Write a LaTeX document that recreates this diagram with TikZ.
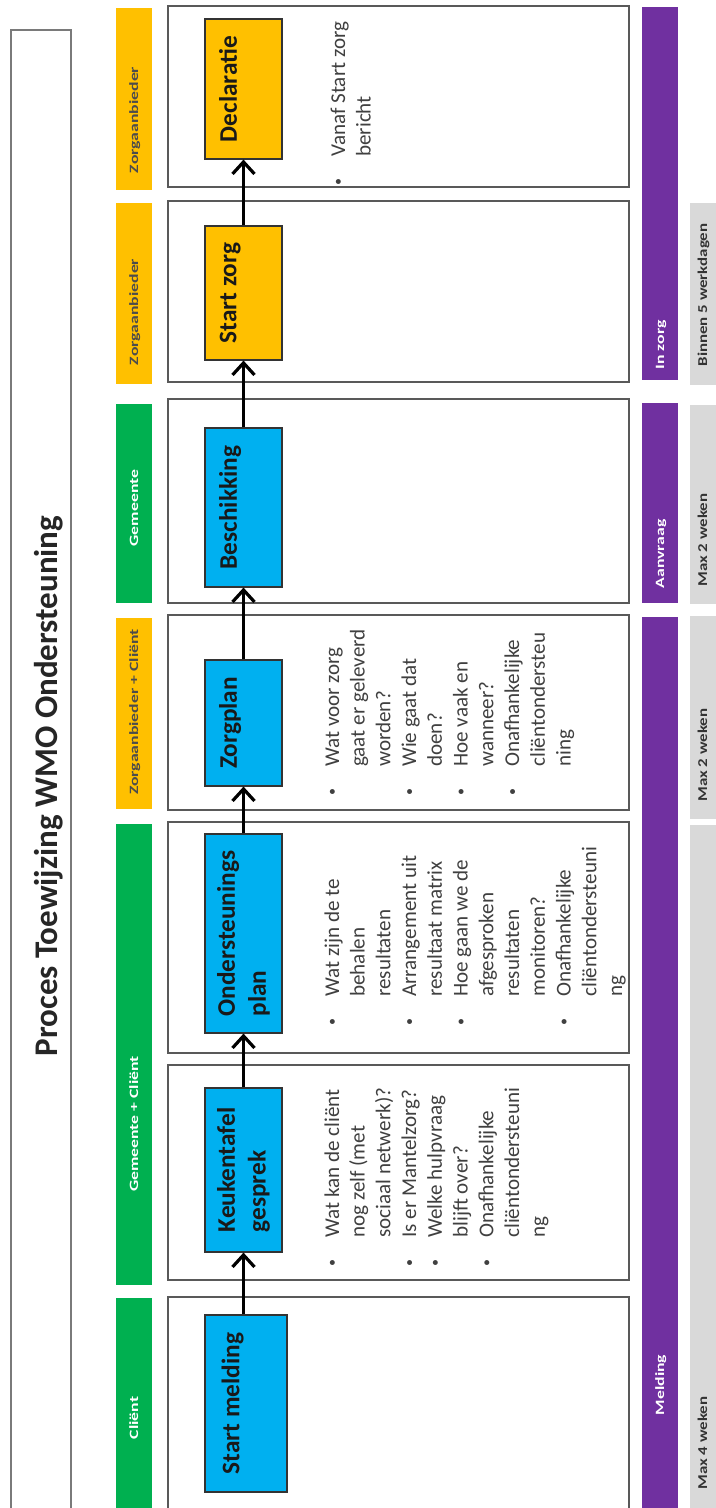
\documentclass[tikz,border=0pt]{standalone}
\usepackage{fontspec}
\setmainfont{Carlito}
\usetikzlibrary{arrows.meta}

\definecolor{wmoBlue}{RGB}{0, 176, 240}
\definecolor{wmoYellow}{RGB}{255, 192, 0}
\definecolor{wmoGreen}{RGB}{0, 176, 80}
\definecolor{wmoPurple}{RGB}{112, 48, 160}
\definecolor{wmoGray}{RGB}{217, 217, 217}
\definecolor{laneLine}{RGB}{89, 89, 89}
\definecolor{txtDark}{RGB}{64, 64, 64}

\newcommand{\dotitem}{\raisebox{.25ex}{\fontsize{10}{10}\selectfont\textbullet}}

\begin{document}
\begin{tikzpicture}[
    x=0.25mm, y=0.25mm,
    lanebox/.style={draw=laneLine, line width=0.4mm},
    titlebox/.style={draw=laneLine!80, line width=0.35mm},
    proc/.style={rectangle, draw=black!80, line width=0.3mm, minimum height=19.25mm,
                 inner sep=0pt, align=center, text=black!90,
                 font=\fontsize{18}{22}\selectfont\bfseries},
    lanelabel/.style={font=\fontsize{9}{10}\selectfont\bfseries, xscale=1.4,
                      text height=1.5ex, text depth=.3ex},
    timelabel/.style={font=\fontsize{9.6}{11}\selectfont\bfseries, xscale=1.25,
                      text=black!80, text height=1.5ex, text depth=.3ex},
    notes/.style={anchor=base west, inner sep=0pt, text=txtDark,
                  font=\fontsize{15}{18.3}\selectfont},
    flow/.style={-{Straight Barb[length=3mm, width=5.5mm]}, line width=0.8mm}
  ]
  % drawn lying down, then turned a quarter
  \begin{scope}[rotate=90, transform shape]
    \useasboundingbox (0,-716) rectangle (1508,0);

    % Title
    \draw[titlebox] (-10,-71) rectangle (1478,-11);
    \node[anchor=base, text=black!85, font=\fontsize{23.5}{28}\selectfont\bfseries]
      (title) at (722,-57) {Proces Toewijzing WMO Ondersteuning};

    % Lanes
    \draw[lanebox] (1321,-629) rectangle (1502,-168);
    \draw[lanebox] (1126,-629) rectangle (1307,-168);
    \draw[lanebox] (905,-629) rectangle (1109,-168);
    \draw[lanebox] (698,-629) rectangle (893,-168);
    \draw[lanebox] (455,-629) rectangle (686,-168);
    \draw[lanebox] (228,-629) rectangle (443,-168);
    \draw[lanebox] (-10,-629) rectangle (211,-168);

    % Who
    \fill[wmoYellow] (1318,-152) rectangle (1500,-116);
    \fill[wmoYellow] (1124,-152) rectangle (1305,-116);
    \fill[wmoGreen] (905,-152) rectangle (1104,-116);
    \fill[wmoYellow] (699,-152) rectangle (890,-116);
    \fill[wmoGreen] (223,-152) rectangle (684,-116);
    \fill[wmoGreen] (-10,-152) rectangle (210,-116);
    \node[lanelabel, text=black!70] (who1) at (1388,-134) {Zorgaanbieder};
    \node[lanelabel, text=black!70] (who2) at (1196,-134) {Zorgaanbieder};
    \node[lanelabel, text=white] (who3) at (1000,-134) {Gemeente};
    \node[lanelabel, text=black!70] (who4) at (796,-134) {Zorgaanbieder + Cliënt};
    \node[lanelabel, text=white] (who5) at (384,-134) {Gemeente + Cliënt};
    \node[lanelabel, text=white] (who6) at (90,-134) {Cliënt};

    % Phases
    \fill[wmoPurple] (1128,-678) rectangle (1501,-642);
    \fill[wmoPurple] (905,-678) rectangle (1105,-642);
    \fill[wmoPurple] (-10,-678) rectangle (891,-642);
    \node[lanelabel, text=white] (phase1) at (1163,-660) {In zorg};
    \node[lanelabel, text=white] (phase2) at (954,-660) {Aanvraag};
    \node[lanelabel, text=white] (phase3) at (123,-660) {Melding};

    % Time limits
    \fill[wmoGray] (1123,-720) rectangle (1305,-690);
    \fill[wmoGray] (904,-720) rectangle (1103,-690);
    \fill[wmoGray] (689,-720) rectangle (892,-690);
    \fill[wmoGray] (-10,-720) rectangle (683,-690);
    \node[timelabel] (time1) at (1213,-703) {Binnen 5 werkdagen};
    \node[timelabel] (time2) at (968,-703) {Max 2 weken};
    \node[timelabel] (time3) at (753,-703) {Max 2 weken};
    \node[timelabel] (time4) at (65,-703) {Max 4 weken};

    % Steps
    \node[proc, fill=wmoBlue, minimum width=44.25mm, minimum height=20.5mm]
      (melding) at (104.5,-246) {Start melding\\\mbox{}};
    \node[proc, fill=wmoBlue, minimum width=41mm, align=left]
      (keuken) at (338,-243.5) {Keukentafel\\gesprek};
    \node[proc, fill=wmoBlue, minimum width=49.75mm, align=left]
      (ostplan) at (574.5,-243.5) {Ondersteunings\\plan};
    \node[proc, fill=wmoBlue, minimum width=31.5mm]
      (zorgplan) at (785,-243.5) {Zorgplan\\\mbox{}};
    \node[proc, fill=wmoBlue, minimum width=39.75mm]
      (besch) at (1000.5,-243.5) {Beschikking\\\mbox{}};
    \node[proc, fill=wmoYellow, minimum width=33.5mm]
      (startzorg) at (1215,-243.5) {Start zorg\\\mbox{}};
    \node[proc, fill=wmoYellow, minimum width=35mm]
      (decl) at (1419,-243.5) {Declaratie\\\mbox{}};

    % Arrows
    \draw[flow] (melding.east |- keuken.west) -- (keuken.west);
    \draw[flow] (keuken) -- (ostplan);
    \draw[flow] (ostplan) -- (zorgplan);
    \draw[flow] (zorgplan) -- (besch);
    \draw[flow] (besch) -- (startzorg);
    \draw[flow] (startzorg) -- (decl);

    % Notes
    \node[notes] (keukennotes) at (241,-339) {\begin{tabular}[t]{@{}l@{\hspace{5.5mm}}l@{}}
      \dotitem & Wat kan de cliënt\\
       & nog zelf (met\\
       & sociaal netwerk)?\\
      \dotitem & Is er Mantelzorg?\\
      \dotitem & Welke hulpvraag\\
       & blijft over?\\
      \dotitem & Onafhankelijke\\
       & cliëntondersteuni\\
       & ng
    \end{tabular}};
    \node[notes] (ostnotes) at (482,-339) {\begin{tabular}[t]{@{}l@{\hspace{5.5mm}}l@{}}
      \dotitem & Wat zijn de te\\
       & behalen\\
       & resultaten\\
      \dotitem & Arrangement uit\\
       & resultaat matrix\\
      \dotitem & Hoe gaan we de\\
       & afgesproken\\
       & resultaten\\
       & monitoren?\\
      \dotitem & Onafhankelijke\\
       & cliëntondersteuni\\
       & ng
    \end{tabular}};
    \node[notes] (zorgnotes) at (712,-339) {\begin{tabular}[t]{@{}l@{\hspace{5.5mm}}l@{}}
      \dotitem & Wat voor zorg\\
       & gaat er geleverd\\
       & worden?\\
      \dotitem & Wie gaat dat\\
       & doen?\\
      \dotitem & Hoe vaak en\\
       & wanneer?\\
      \dotitem & Onafhankelijke\\
       & cliëntondersteu\\
       & ning
    \end{tabular}};
    \node[notes] (declnotes) at (1322,-345) {\begin{tabular}[t]{@{}l@{\hspace{5.5mm}}l@{}}
      \dotitem & Vanaf Start zorg\\
       & bericht
    \end{tabular}};
  \end{scope}
\end{tikzpicture}
\end{document}
